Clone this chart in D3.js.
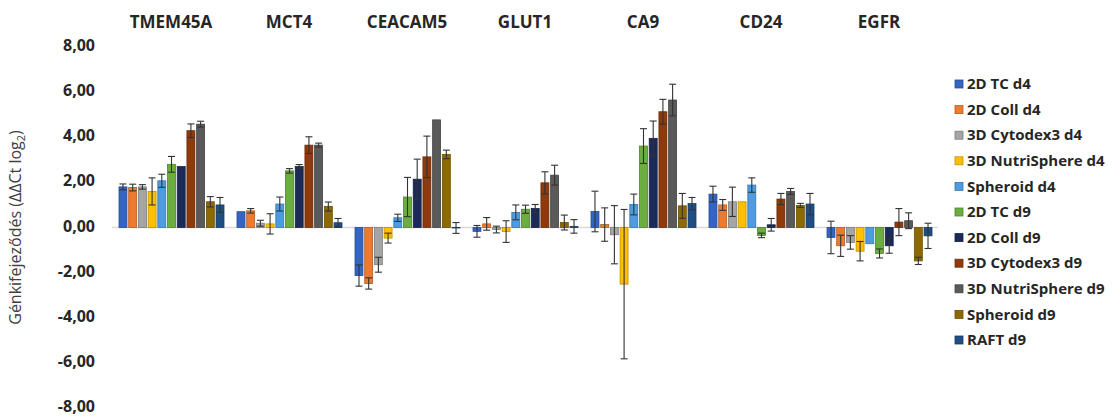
<!DOCTYPE html>
<html>
<head>
<meta charset="utf-8">
<script src="https://cdn.jsdelivr.net/npm/d3@7"></script>
<style>
  body { margin: 0; background: #fff; }
  svg { display: block; font-family: "Open Sans", sans-serif; }
</style>
</head>
<body>
<svg id="graph" width="1118" height="417"></svg>
<script>
"use strict";
var genes = ["TMEM45A", "MCT4", "CEACAM5", "GLUT1", "CA9", "CD24", "EGFR"];
var series = ["2D TC d4", "2D Coll d4", "3D Cytodex3 d4", "3D NutriSphere d4", "Spheroid d4",
  "2D TC d9", "2D Coll d9", "3D Cytodex3 d9", "3D NutriSphere d9", "Spheroid d9", "RAFT d9"];
var colors = ["#3465c4", "#ee7a30", "#a5a5a5", "#ffc000", "#4d9be0",
  "#6aae3f", "#1b2a58", "#8e3a0c", "#5a5a5a", "#8c6a00", "#1f4e85"];
var yTicks = [-8, -6, -4, -2, 0, 2, 4, 6, 8];

// mean values, one per series, for each gene
var tmem45a = [1.80, 1.77, 1.80, 1.60, 2.07, 2.80, 2.70, 4.29, 4.58, 1.14, 1.00];
var mct4    = [0.70, 0.74, 0.19, 0.16, 1.04, 2.51, 2.70, 3.65, 3.65, 0.93, 0.21];
var ceacam5 = [-2.13, -2.48, -1.65, -0.47, 0.43, 1.35, 2.14, 3.13, 4.77, 3.24, -0.02];
var glut1   = [-0.17, 0.16, -0.09, -0.18, 0.67, 0.81, 0.84, 1.98, 2.32, 0.22, 0.05];
var ca9     = [0.71, 0.13, -0.32, -2.51, 1.02, 3.61, 3.95, 5.13, 5.65, 0.96, 1.06];
var cd24    = [1.48, 1.00, 1.14, 1.14, 1.88, -0.35, 0.12, 1.26, 1.60, 0.98, 1.04];
var egfr    = [-0.44, -0.81, -0.66, -1.05, -0.72, -1.15, -0.81, 0.24, 0.30, -1.48, -0.37];

// error bars (+/-)
var tmem45aErr = [0.13, 0.15, 0.10, 0.60, 0.29, 0.35, 0, 0.30, 0.13, 0.23, 0.33];
var mct4Err    = [0, 0.10, 0.13, 0.45, 0.31, 0.10, 0.09, 0.37, 0.09, 0.20, 0.19];
var ceacam5Err = [0.47, 0.25, 0.33, 0.22, 0.16, 0.87, 0.89, 0.92, 0, 0.19, 0.24];
var glut1Err   = [0.26, 0.28, 0.15, 0.48, 0.33, 0.18, 0.18, 0.49, 0.44, 0.33, 0.30];
var ca9Err     = [0.90, 0.74, 1.29, 3.31, 0.46, 0.77, 0.77, 0.55, 0.70, 0.55, 0.27];
var cd24Err    = [0.35, 0.24, 0.65, 0, 0.32, 0.10, 0.28, 0.25, 0.13, 0.09, 0.47];
var egfrErr    = [0.72, 0.47, 0.30, 0.43, 0, 0.20, 0.33, 0.60, 0.35, 0.16, 0.56];

var values = [tmem45a, mct4, ceacam5, glut1, ca9, cd24, egfr];
var errors = [tmem45aErr, mct4Err, ceacam5Err, glut1Err, ca9Err, cd24Err, egfrErr];

var svg = d3.select("#graph");

var x0 = d3.scaleBand().domain(genes).range([112, 938]);
var x1 = d3.scaleBand().domain(series).range([7, x0.bandwidth() - 6]).paddingInner(0.18);
var y = d3.scaleLinear().domain([-8, 8]).range([408, 47]);

var locale = d3.formatLocale({decimal: ",", thousands: " ", grouping: [3], currency: ["", ""], minus: "-"});
var fmt = locale.format(".2f");

// y tick labels (no axis line)
var yAxis = svg.append("g")
  .attr("transform", "translate(95,0)")
  .call(d3.axisLeft(y).tickValues(yTicks).tickFormat(fmt).tickSize(0).tickPadding(0));
yAxis.select(".domain").remove();
yAxis.selectAll("text")
  .attr("font-family", "Open Sans, sans-serif")
  .attr("font-size", 16)
  .attr("font-weight", 700)
  .attr("dy", "0.22em")
  .attr("fill", "#262626");

// y title
var yt = svg.append("text")
  .attr("transform", "translate(21," + y(0) + ") rotate(-90)")
  .attr("text-anchor", "middle")
  .attr("font-size", 16)
  .attr("fill", "#404040");
yt.append("tspan").text("Génkifejeződés (ΔΔCt log");
yt.append("tspan").attr("font-size", 11).attr("dy", 4).text("2");
yt.append("tspan").attr("dy", -4).text(")");

// zero line
svg.append("line")
  .attr("x1", x0.range()[0]).attr("x2", x0.range()[1])
  .attr("y1", y(0)).attr("y2", y(0))
  .attr("stroke", "#d9d9d9").attr("stroke-width", 1.5);

// gene labels
svg.append("g").selectAll("text")
  .data(genes)
  .join("text")
  .attr("x", d => x0(d) + x0.bandwidth() / 2)
  .attr("y", 28)
  .attr("text-anchor", "middle")
  .attr("font-size", 17)
  .attr("font-weight", 700)
  .attr("fill", "#262626")
  .text(d => d);

// bars
var groups = svg.append("g").selectAll("g")
  .data(genes)
  .join("g")
  .attr("transform", d => "translate(" + x0(d) + ",0)");

groups.each(function(g, gi) {
  var grp = d3.select(this);
  var data = series.map((s, i) => ({s: s, i: i, v: values[gi][i], e: errors[gi][i]}));
  grp.selectAll("rect")
    .data(data)
    .join("rect")
    .attr("x", d => x1(d.s))
    .attr("width", x1.bandwidth())
    .attr("y", d => y(Math.max(0, d.v)))
    .attr("height", d => Math.abs(y(d.v) - y(0)))
    .attr("fill", d => colors[d.i])
    .attr("stroke", d => d3.color(colors[d.i]).darker(0.8))
    .attr("stroke-width", 0.8);

  var eb = grp.selectAll("g.err")
    .data(data.filter(d => d.e > 0))
    .join("g")
    .attr("class", "err")
    .attr("stroke", "#333")
    .attr("stroke-width", 1.1);
  eb.append("line")
    .attr("x1", d => x1(d.s) + x1.bandwidth() / 2)
    .attr("x2", d => x1(d.s) + x1.bandwidth() / 2)
    .attr("y1", d => y(d.v + d.e))
    .attr("y2", d => y(d.v - d.e));
  [1, -1].forEach(function(sign) {
    eb.append("line")
      .attr("x1", d => x1(d.s) + x1.bandwidth() / 2 - 3.5)
      .attr("x2", d => x1(d.s) + x1.bandwidth() / 2 + 3.5)
      .attr("y1", d => y(d.v + sign * d.e))
      .attr("y2", d => y(d.v + sign * d.e));
  });
});

// legend
var legend = svg.append("g").selectAll("g")
  .data(series)
  .join("g")
  .attr("transform", (d, i) => "translate(955," + (84 + i * 25.6) + ")");
legend.append("rect")
  .attr("x", 0).attr("y", -4)
  .attr("width", 8).attr("height", 8)
  .attr("fill", (d, i) => colors[i])
  .attr("stroke", (d, i) => d3.color(colors[i]).darker(0.8))
  .attr("stroke-width", 0.8);
legend.append("text")
  .attr("x", 12)
  .attr("dy", "0.35em")
  .attr("font-size", 15)
  .attr("font-weight", 700)
  .attr("fill", "#262626")
  .text(d => d);
</script>
</body>
</html>
